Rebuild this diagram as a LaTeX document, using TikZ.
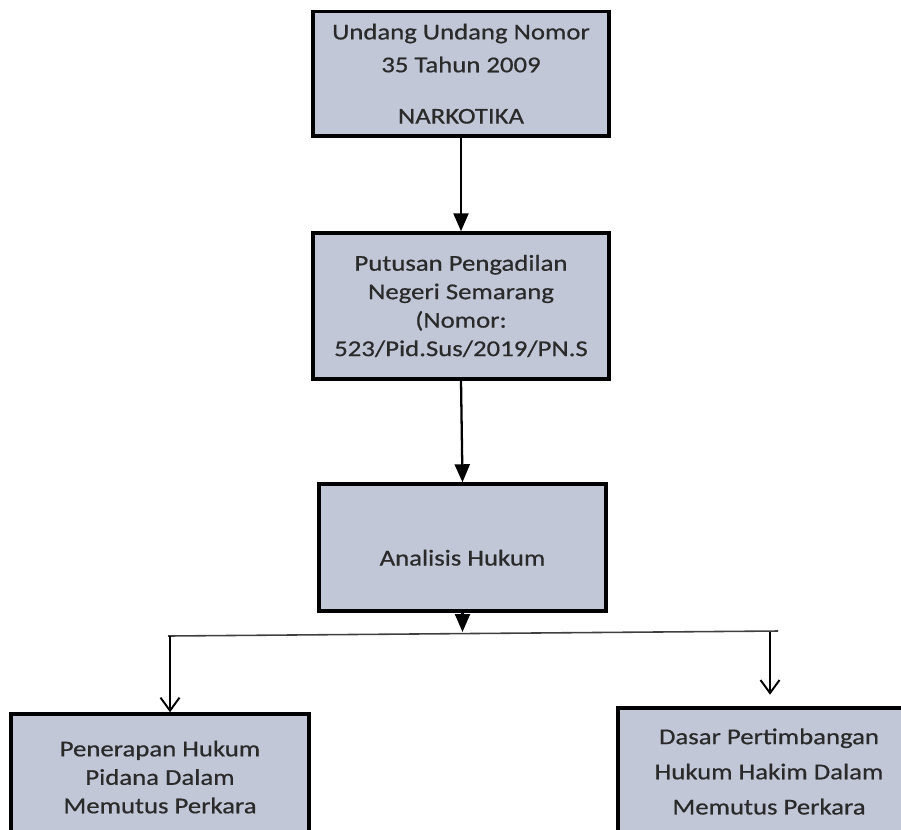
\documentclass[tikz,border=0pt]{standalone}
\usepackage{fontspec}
\setmainfont{Carlito}[FakeStretch=1.18,FakeBold=0.6]
\usetikzlibrary{arrows.meta}
\definecolor{boxgray}{HTML}{C1C7D7}
\definecolor{textgray}{HTML}{2A2A2A}

\begin{document}
\begin{tikzpicture}[x=0.02cm,y=-0.02cm,
                    box/.style={rectangle,draw=black,line width=2pt,fill=boxgray,
                      align=center,text=textgray,inner sep=0pt,
                      font=\fontsize{12.9pt}{16.2pt}\selectfont},
                    tip/.style={-{Triangle[width=0.3cm,length=0.36cm]},line width=1.3pt},
                    barb/.style={-{Straight Barb[width=0.38cm,length=0.26cm]},line width=1.1pt}]

  \useasboundingbox (0,0) rectangle (901,829);
  \clip (0,0) rectangle (901,829);

  \node[box,minimum width=5.92cm,minimum height=2.49cm] (uu) at (461,73.7)
    {Undang Undang Nomor\\[2.5pt]35 Tahun 2009\\[13pt]NARKOTIKA};
  \node[box,minimum width=5.92cm,minimum height=2.92cm] (putusan) at (461,306)
    {Putusan Pengadilan\\Negeri Semarang\\(Nomor:\\523/Pid.Sus/2019/PN.S};
  \node[box,minimum width=5.74cm,minimum height=2.54cm,
        text height=0.8cm,text depth=0.08cm] (analisis) at (462.5,547.5) {Analisis Hukum};
  \node[box,minimum width=5.96cm,minimum height=2.52cm] (penerapan) at (160,777)
    {Penerapan Hukum\\Pidana Dalam\\Memutus Perkara};
  \node[box,minimum width=6.04cm,minimum height=2.54cm] (dasar) at (769,771.5)
    {Dasar Pertimbangan\\[3.8pt]Hukum Hakim Dalam\\[3.8pt]Memutus Perkara};

  % cabang
  \coordinate (kiri) at (168,636);
  \coordinate (kanan) at (778,631);
  \coordinate (turunkiri) at (170,636);
  \coordinate (turunkanan) at (770,632);

  \draw[tip] (uu.south) -- (putusan.north);
  \draw[tip] (putusan.south) -- (analisis.north);
  \draw[tip] (analisis.south) -- (analisis.south |- turunkanan);
  \draw[line width=0.9pt,black!75] (kiri) -- (kanan);
  \draw[barb] (turunkiri) -- (turunkiri |- penerapan.north);
  \draw[barb,shorten >=6\pgflinewidth] (turunkanan) -- (turunkanan |- dasar.north);
\end{tikzpicture}
\end{document}
